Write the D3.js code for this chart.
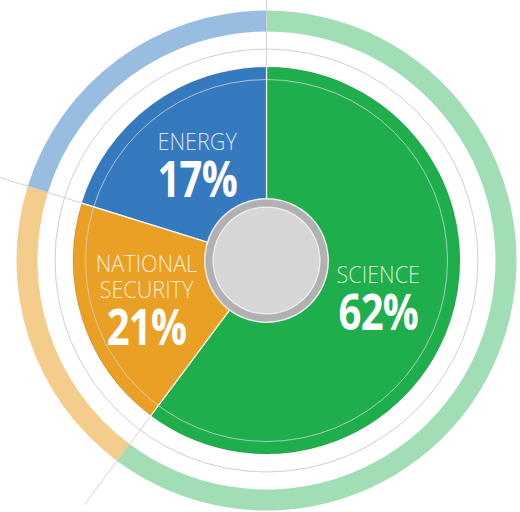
<!DOCTYPE html>
<html>
<head>
<meta charset="utf-8">
<script src="https://cdn.jsdelivr.net/npm/d3@7"></script>
<style>
  html, body { margin: 0; padding: 0; background: #fff; }
  svg { display: block; }
  text { font-family: "Open Sans", "Noto Sans", sans-serif; }
</style>
</head>
<body>
<div id="chart"></div>
<script>
// Data
const categories = ['SCIENCE', 'NATIONAL SECURITY', 'ENERGY'];
const nameLines = [['SCIENCE'], ['NATIONAL', 'SECURITY'], ['ENERGY']];
const percentLabels = [62, 21, 17];
// the wedges as drawn are not exactly the printed percentages
const arcShares = [60.2, 19.6, 20.2];

const sliceColors = ['#1eae4c', '#e9a024', '#3579bf'];
const bandColors = ['#a1ddb5', '#f4cc8b', '#99bde0'];

// Layout
const width = 520, height = 512;
const cx = 266.5, cy = 260.5;
const pieR = 194;
const innerRingR = 181;
const gapRingR = 211.5;
const bandInner = 229, bandOuter = 250;
const labelR = 122;
// small nudges (x, y) for each label block
const labelNudge = [[-4, 4], [-4, 20], [3, 8]];

const svg = d3.select('#chart').append('svg')
  .attr('width', width)
  .attr('height', height);

const g = svg.append('g')
  .attr('transform', `translate(${cx},${cy})`);

const pie = d3.pie()
  .sort(null)
  .value(d => d);

const arcs = pie(arcShares);

const arcPie = d3.arc().innerRadius(0).outerRadius(pieR);
const arcBand = d3.arc().innerRadius(bandInner).outerRadius(bandOuter);
const arcLabel = d3.arc().innerRadius(labelR).outerRadius(labelR);

// outer light band
g.selectAll('.band')
  .data(arcs)
  .enter().append('path')
  .attr('class', 'band')
  .attr('d', arcBand)
  .style('fill', (d, i) => bandColors[i]);

// thin ring in the white gap
g.append('circle')
  .attr('r', gapRingR)
  .style('fill', 'none')
  .style('stroke', '#cfcfcf')
  .style('stroke-width', 1);

// separator lines, running out from the pie
const lineR = 305;
g.selectAll('.sep')
  .data(arcs)
  .enter().append('line')
  .attr('class', 'sep')
  .attr('x1', d => pieR * Math.sin(d.startAngle))
  .attr('y1', d => -pieR * Math.cos(d.startAngle))
  .attr('x2', d => lineR * Math.sin(d.startAngle))
  .attr('y2', d => -lineR * Math.cos(d.startAngle))
  .style('stroke', '#d2d2d2')
  .style('stroke-width', 1);

// pie wedges
g.selectAll('.slice')
  .data(arcs)
  .enter().append('path')
  .attr('class', 'slice')
  .attr('d', arcPie)
  .style('fill', (d, i) => sliceColors[i])
  .style('stroke', '#fff')
  .style('stroke-width', 1.2);

// soft edge on the pie
g.append('circle')
  .attr('r', pieR - 0.5)
  .style('fill', 'none')
  .style('stroke', 'rgba(0,0,0,0.12)')
  .style('stroke-width', 1);

// thin ring inside the pie
g.append('circle')
  .attr('r', innerRingR)
  .style('fill', 'none')
  .style('stroke', 'rgba(215,215,215,0.75)')
  .style('stroke-width', 1);

// hub
g.append('circle').attr('r', 62.5).style('fill', '#ececec');
g.append('circle').attr('r', 61).style('fill', '#b1b1b1');
g.append('circle').attr('r', 54).style('fill', '#efefef');
g.append('circle').attr('r', 52.8).style('fill', '#d6d6d6');

// labels
const labels = g.selectAll('.label')
  .data(arcs)
  .enter().append('g')
  .attr('class', 'label')
  .attr('transform', (d, i) => {
    const c = arcLabel.centroid(d);
    return `translate(${c[0] + labelNudge[i][0]},${c[1] + labelNudge[i][1]})`;
  });

labels.each(function(d, i) {
  const el = d3.select(this);
  const lines = nameLines[i];
  lines.forEach((line, j) => {
    const dy = -20 - (lines.length - 1 - j) * 26;
    el.append('text')
      .attr('transform', `translate(0,${dy}) scale(0.9,1)`)
      .attr('text-anchor', 'middle')
      .style('font-size', '24px')
      .style('font-weight', 300)
      .style('fill', 'rgba(255,255,255,0.82)')
      .text(line);
  });
  el.append('text')
    .attr('transform', 'translate(0,27) scale(0.8,1)')
    .attr('text-anchor', 'middle')
    .style('font-size', '50px')
    .style('font-weight', 700)
    .style('letter-spacing', '-1px')
    .style('fill', '#fff')
    .text(`${percentLabels[i]}%`);
});
</script>
</body>
</html>
